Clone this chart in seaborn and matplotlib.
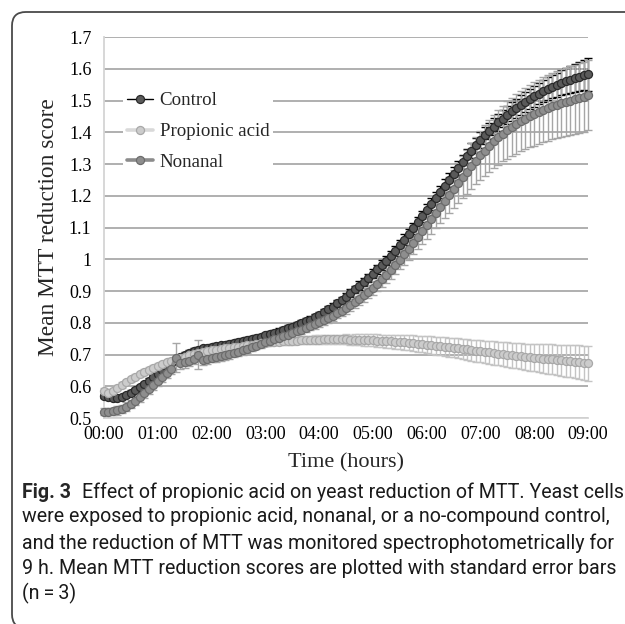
import numpy as np
import pandas as pd
import matplotlib
matplotlib.use("Agg")
import matplotlib.pyplot as plt
import seaborn as sns
from matplotlib.patches import FancyBboxPatch

# readings every 5 minutes, 00:00 .. 09:00 (one row per hour)
time_hours = np.arange(109) * 5 / 60.0

control = [
    0.570, 0.566, 0.563, 0.562, 0.566, 0.572, 0.580, 0.589, 0.598, 0.608, 0.618, 0.629,
    0.640, 0.651, 0.662, 0.673, 0.683, 0.692, 0.700, 0.706, 0.711, 0.715, 0.719, 0.722,
    0.725, 0.727, 0.729, 0.731, 0.734, 0.737, 0.740, 0.743, 0.746, 0.749, 0.752, 0.756,
    0.760, 0.764, 0.768, 0.772, 0.777, 0.782, 0.787, 0.792, 0.798, 0.804, 0.810, 0.817,
    0.825, 0.833, 0.842, 0.851, 0.861, 0.871, 0.882, 0.893, 0.905, 0.917, 0.929, 0.942,
    0.955, 0.968, 0.982, 0.996, 1.011, 1.027, 1.044, 1.061, 1.079, 1.097, 1.116, 1.135,
    1.155, 1.174, 1.193, 1.212, 1.231, 1.250, 1.269, 1.288, 1.306, 1.324, 1.342, 1.359,
    1.375, 1.390, 1.404, 1.418, 1.431, 1.443, 1.455, 1.466, 1.476, 1.486, 1.496, 1.505,
    1.514, 1.522, 1.530, 1.537, 1.544, 1.550, 1.556, 1.561, 1.566, 1.571, 1.575, 1.579,
    1.583,
]
control_se = [
    0.006, 0.006, 0.006, 0.006, 0.006, 0.006, 0.007, 0.007, 0.007, 0.007, 0.007, 0.007,
    0.007, 0.007, 0.007, 0.007, 0.008, 0.008, 0.008, 0.008, 0.008, 0.008, 0.008, 0.008,
    0.008, 0.008, 0.008, 0.009, 0.009, 0.009, 0.009, 0.009, 0.009, 0.009, 0.009, 0.009,
    0.009, 0.009, 0.010, 0.010, 0.010, 0.010, 0.010, 0.010, 0.010, 0.010, 0.010, 0.010,
    0.010, 0.010, 0.011, 0.011, 0.011, 0.011, 0.012, 0.012, 0.012, 0.013, 0.013, 0.013,
    0.014, 0.014, 0.015, 0.015, 0.016, 0.016, 0.016, 0.017, 0.017, 0.018, 0.018, 0.018,
    0.019, 0.019, 0.020, 0.020, 0.021, 0.021, 0.022, 0.022, 0.023, 0.023, 0.024, 0.024,
    0.025, 0.026, 0.026, 0.027, 0.028, 0.028, 0.029, 0.030, 0.030, 0.031, 0.032, 0.032,
    0.033, 0.034, 0.035, 0.036, 0.037, 0.038, 0.039, 0.040, 0.042, 0.043, 0.045, 0.047,
    0.052,
]

propionic = [
    0.585, 0.580, 0.586, 0.595, 0.604, 0.613, 0.622, 0.630, 0.638, 0.645, 0.652, 0.658,
    0.664, 0.670, 0.675, 0.680, 0.685, 0.689, 0.693, 0.697, 0.701, 0.704, 0.707, 0.710,
    0.713, 0.715, 0.717, 0.719, 0.721, 0.723, 0.725, 0.727, 0.729, 0.731, 0.733, 0.735,
    0.737, 0.738, 0.739, 0.740, 0.741, 0.742, 0.743, 0.744, 0.745, 0.746, 0.746, 0.747,
    0.747, 0.748, 0.748, 0.748, 0.748, 0.748, 0.748, 0.747, 0.747, 0.747, 0.746, 0.746,
    0.745, 0.744, 0.743, 0.742, 0.741, 0.740, 0.739, 0.738, 0.737, 0.735, 0.734, 0.733,
    0.731, 0.730, 0.728, 0.727, 0.725, 0.723, 0.722, 0.720, 0.718, 0.716, 0.714, 0.712,
    0.711, 0.709, 0.707, 0.705, 0.703, 0.701, 0.700, 0.698, 0.696, 0.695, 0.693, 0.691,
    0.690, 0.689, 0.687, 0.686, 0.685, 0.683, 0.682, 0.680, 0.679, 0.677, 0.676, 0.674,
    0.672,
]
propionic_se = [
    0.008, 0.008, 0.008, 0.008, 0.008, 0.008, 0.008, 0.008, 0.008, 0.008, 0.008, 0.008,
    0.008, 0.008, 0.008, 0.008, 0.008, 0.008, 0.008, 0.008, 0.008, 0.008, 0.008, 0.008,
    0.008, 0.008, 0.008, 0.008, 0.009, 0.009, 0.009, 0.009, 0.009, 0.009, 0.009, 0.009,
    0.010, 0.010, 0.010, 0.011, 0.011, 0.011, 0.012, 0.012, 0.012, 0.013, 0.013, 0.013,
    0.014, 0.014, 0.014, 0.015, 0.015, 0.015, 0.016, 0.016, 0.017, 0.017, 0.018, 0.018,
    0.019, 0.020, 0.020, 0.021, 0.021, 0.022, 0.023, 0.023, 0.024, 0.025, 0.025, 0.026,
    0.027, 0.027, 0.028, 0.028, 0.029, 0.030, 0.030, 0.031, 0.032, 0.032, 0.033, 0.034,
    0.035, 0.035, 0.036, 0.037, 0.037, 0.038, 0.039, 0.039, 0.040, 0.041, 0.041, 0.042,
    0.043, 0.044, 0.045, 0.046, 0.047, 0.048, 0.049, 0.050, 0.051, 0.052, 0.053, 0.054,
    0.055,
]

nonanal = [
    0.520, 0.520, 0.521, 0.524, 0.529, 0.536, 0.545, 0.555, 0.566, 0.578, 0.590, 0.603,
    0.616, 0.629, 0.642, 0.655, 0.690, 0.672, 0.675, 0.680, 0.686, 0.700, 0.684, 0.686,
    0.690, 0.692, 0.695, 0.698, 0.701, 0.705, 0.709, 0.713, 0.718, 0.723, 0.728, 0.733,
    0.738, 0.743, 0.748, 0.753, 0.758, 0.763, 0.768, 0.773, 0.778, 0.783, 0.789, 0.795,
    0.801, 0.808, 0.815, 0.822, 0.830, 0.838, 0.847, 0.856, 0.866, 0.876, 0.887, 0.898,
    0.910, 0.923, 0.937, 0.952, 0.967, 0.983, 0.999, 1.016, 1.033, 1.051, 1.069, 1.088,
    1.107, 1.126, 1.145, 1.164, 1.183, 1.202, 1.221, 1.240, 1.258, 1.276, 1.294, 1.311,
    1.327, 1.342, 1.357, 1.371, 1.384, 1.396, 1.407, 1.417, 1.426, 1.435, 1.443, 1.451,
    1.458, 1.465, 1.471, 1.477, 1.482, 1.487, 1.492, 1.496, 1.500, 1.504, 1.508, 1.512,
    1.517,
]
nonanal_se = [
    0.012, 0.012, 0.012, 0.013, 0.013, 0.013, 0.013, 0.014, 0.014, 0.014, 0.014, 0.015,
    0.015, 0.015, 0.015, 0.016, 0.045, 0.018, 0.016, 0.016, 0.016, 0.045, 0.018, 0.016,
    0.015, 0.015, 0.015, 0.014, 0.014, 0.014, 0.013, 0.013, 0.013, 0.012, 0.012, 0.012,
    0.012, 0.012, 0.012, 0.012, 0.012, 0.012, 0.012, 0.013, 0.013, 0.013, 0.013, 0.014,
    0.014, 0.015, 0.015, 0.016, 0.016, 0.017, 0.018, 0.018, 0.019, 0.020, 0.021, 0.021,
    0.022, 0.024, 0.025, 0.027, 0.028, 0.030, 0.031, 0.033, 0.035, 0.036, 0.038, 0.040,
    0.042, 0.045, 0.048, 0.051, 0.054, 0.057, 0.060, 0.063, 0.066, 0.069, 0.072, 0.075,
    0.078, 0.080, 0.082, 0.084, 0.086, 0.088, 0.090, 0.092, 0.093, 0.095, 0.096, 0.098,
    0.100, 0.101, 0.102, 0.103, 0.104, 0.105, 0.106, 0.107, 0.108, 0.109, 0.109, 0.110,
    0.110,
]

series_names = ["Control", "Propionic acid", "Nonanal"]
x_tick_labels = ["00:00", "01:00", "02:00", "03:00", "04:00",
                 "05:00", "06:00", "07:00", "08:00", "09:00"]
y_ticks = [0.5, 0.6, 0.7, 0.8, 0.9, 1.0, 1.1, 1.2, 1.3, 1.4, 1.5, 1.6, 1.7]
y_tick_labels = ["0.5", "0.6", "0.7", "0.8", "0.9", "1", "1.1", "1.2",
                 "1.3", "1.4", "1.5", "1.6", "1.7"]

caption_lines = [
    "Effect of propionic acid on yeast reduction of MTT. Yeast cells",
    "were exposed to propionic acid, nonanal, or a no-compound control,",
    "and the reduction of MTT was monitored spectrophotometrically for",
    "9 h. Mean MTT reduction scores are plotted with standard error bars",
    "(n\u2009=\u20093)",
]

df = pd.DataFrame({
    "time": np.tile(time_hours, 3),
    "score": control + propionic + nonanal,
    "se": control_se + propionic_se + nonanal_se,
    "series": np.repeat(series_names, len(time_hours)),
})

# style per series: line colour, line width, marker face, marker edge, error bar colour
styles = {
    "Control": dict(line="#000000", lw=1.0, face="#5a5a5a", edge="#2a2a2a", err="#000000"),
    "Propionic acid": dict(line="#d9d9d9", lw=2.6, face="#cccccc", edge="#a8a8a8", err="#c4c4c4"),
    "Nonanal": dict(line="#8c8c8c", lw=2.6, face="#8e8e8e", edge="#6c6c6c", err="#a6a6a6"),
}

sns.set_theme(style="white")
plt.rcParams["font.family"] = ["Liberation Serif", "DejaVu Serif"]

fig = plt.figure(figsize=(6.25, 6.24), dpi=100)
ax = fig.add_axes([0.1664, 0.3301, 0.7744, 0.6106])

# error bars first, markers on top (Excel look)
for name in series_names:
    sub = df[df["series"] == name]
    st = styles[name]
    ax.errorbar(sub["time"], sub["score"], yerr=sub["se"], fmt="none",
                ecolor=st["err"], elinewidth=1.0, capsize=2.6, capthick=1.0,
                zorder=2, clip_on=False)

for i, name in enumerate(series_names):
    sub = df[df["series"] == name]
    st = styles[name]
    sns.lineplot(data=sub, x="time", y="score", ax=ax, color=st["line"],
                 linewidth=st["lw"], marker="o", markersize=5.8,
                 markerfacecolor=st["face"], markeredgecolor=st["edge"],
                 markeredgewidth=0.9, label=name, zorder=3 + i, clip_on=False,
                 legend=False)

ax.set_xlim(0, 9)
ax.set_ylim(0.5, 1.7)
ax.set_xticks(range(10))
ax.set_xticklabels(x_tick_labels)
ax.set_yticks(y_ticks)
ax.set_yticklabels(y_tick_labels)
ax.tick_params(axis="both", length=0, labelsize=13, colors="#000000")
ax.tick_params(axis="y", pad=9)
ax.tick_params(axis="x", pad=6)

ax.yaxis.grid(True, color="#a9a9a9", linewidth=1.3)
ax.xaxis.grid(False)
ax.set_axisbelow(True)
for side in ["top", "right"]:
    ax.spines[side].set_visible(False)
for side in ["left", "bottom"]:
    ax.spines[side].set_color("#d4d4d4")
    ax.spines[side].set_linewidth(1.3)

ax.set_xlabel("Time (hours)", fontsize=16)
ax.set_ylabel("Mean MTT reduction score", fontsize=16.8)
ax.xaxis.set_label_coords(0.5, -0.092)
ax.yaxis.set_label_coords(-0.093, 0.5)

handles = [h for h in ax.get_lines() if h.get_label() in series_names]
leg = ax.legend(handles=handles, labels=series_names, loc="upper left",
                bbox_to_anchor=(0.039, 0.866), fontsize=13.6, frameon=True,
                fancybox=False, framealpha=1.0, borderpad=0.22,
                labelspacing=0.72, handlelength=1.4, handletextpad=0.32,
                borderaxespad=0.0)
leg.get_frame().set_edgecolor("none")
leg.get_frame().set_facecolor("white")

# rounded border of the figure panel (right and bottom run off the page)
W, H = 625, 624
box = FancyBboxPatch((12 / W, -4 / H), 660 / W, 616 / H,
                     boxstyle="round,pad=0,rounding_size=0.022",
                     transform=fig.transFigure, facecolor="none",
                     edgecolor="#4a4a4a", linewidth=1.3, zorder=0)
fig.patches.append(box)

# caption: size the sans text so the longest line spans the panel width
cap_family = ["Roboto", "DejaVu Sans"]
probe = fig.text(0, 0, caption_lines[1], fontsize=12, family=cap_family)
fig.canvas.draw()
probe_w = probe.get_window_extent().width
probe.remove()
cap_size = 12 * 588 / probe_w

line_y = [492, 517, 543, 568, 593]
fig_label = fig.text(22 / W, 1 - line_y[0] / H, "Fig. 3", fontsize=cap_size,
                     fontweight="bold", family=cap_family, va="center", ha="left")
fig.canvas.draw()
label_right = fig_label.get_window_extent().x1
fig.text((label_right + 11) / W, 1 - line_y[0] / H, caption_lines[0],
         fontsize=cap_size, family=cap_family, va="center", ha="left",
         color="#1a1a1a")
for text, y in zip(caption_lines[1:], line_y[1:]):
    fig.text(22 / W, 1 - y / H, text, fontsize=cap_size, family=cap_family,
             va="center", ha="left", color="#1a1a1a")

fig.savefig("out.png", dpi=100)
plt.close(fig)
